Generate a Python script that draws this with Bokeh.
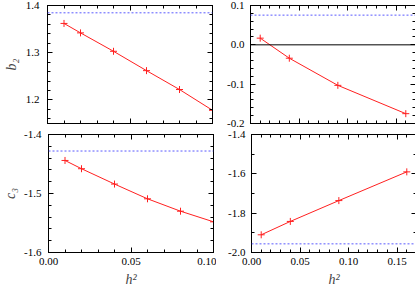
from bokeh.plotting import figure
from bokeh.models import LinearAxis, FixedTicker, PrintfTickFormatter, Span, Range1d
from bokeh.layouts import column, row
from bokeh.embed import file_html
from bokeh.resources import INLINE

# ---- data ----
h2_left = [0.01, 0.02, 0.04, 0.06, 0.08, 0.10]
b2_left = [1.362, 1.342, 1.303, 1.262, 1.222, 1.178]
b2_left_limit = 1.3845
c3_left = [-1.444, -1.458, -1.484, -1.509, -1.530, -1.548]
c3_left_limit = -1.428

h2_right = [0.01, 0.04, 0.09, 0.16]
b2_right = [0.017, -0.034, -0.103, -0.175]
b2_right_limit = 0.0755
c3_right = [-1.910, -1.842, -1.736, -1.590]
c3_right_limit = -1.956

# tick labels
x_ticks_left = [0.0, 0.05, 0.10]
x_ticks_right = [0.0, 0.05, 0.10, 0.15]
y_ticks_tl = [1.2, 1.3, 1.4]
y_ticks_tr = [-0.2, -0.1, 0.0, 0.1]
y_ticks_bl = [-1.6, -1.5, -1.4]
y_ticks_br = [-2.0, -1.8, -1.6, -1.4]

FONT = "Liberation Serif"


def minor(lo, hi, step):
    n = int(round((hi - lo) / step))
    return [round(lo + i * step, 6) for i in range(n + 1)]


def style_axis(ax, show_labels, fmt):
    ax.major_tick_in = 5
    ax.major_tick_out = 0
    ax.minor_tick_in = 3
    ax.minor_tick_out = 0
    ax.axis_line_color = "black"
    ax.major_tick_line_color = "black"
    ax.minor_tick_line_color = "black"
    ax.formatter = PrintfTickFormatter(format=fmt)
    if show_labels:
        ax.major_label_text_font = FONT
        ax.major_label_text_font_size = "11px"
        ax.major_label_text_color = "black"
    else:
        ax.major_label_text_color = None
        ax.major_label_text_font_size = "0px"
        ax.major_label_standoff = 0


def panel(x, y, lim, xr, yr, xt, xminor, yt, yminor, xfmt, yfmt,
          ylabel, show_x, borders, ystand, ylab_stand, zero=False):
    bl, br, bt, bb = borders
    p = figure(frame_width=165, frame_height=118,
               x_range=Range1d(*xr), y_range=Range1d(*yr),
               output_backend="svg", toolbar_location=None,
               min_border_left=bl, min_border_right=br,
               min_border_top=bt, min_border_bottom=bb)
    p.grid.visible = False
    p.outline_line_color = "black"
    p.outline_line_width = 1
    p.background_fill_color = "white"
    p.border_fill_color = "white"

    p.xaxis.ticker = FixedTicker(ticks=xt, minor_ticks=xminor)
    p.yaxis.ticker = FixedTicker(ticks=yt, minor_ticks=yminor)
    style_axis(p.xaxis[0], show_x, xfmt)
    style_axis(p.yaxis[0], True, yfmt)
    p.yaxis[0].major_label_standoff = ystand
    if ylabel:
        p.yaxis[0].axis_label = ylabel
        p.yaxis[0].axis_label_text_font = FONT
        p.yaxis[0].axis_label_text_font_style = "italic"
        p.yaxis[0].axis_label_text_font_size = "14px"
        p.yaxis[0].axis_label_standoff = ylab_stand
    if show_x:
        p.xaxis[0].major_label_standoff = 5
        p.xaxis[0].axis_label = "h²"
        p.xaxis[0].axis_label_text_font = FONT
        p.xaxis[0].axis_label_text_font_style = "italic"
        p.xaxis[0].axis_label_text_font_size = "14px"
        p.xaxis[0].axis_label_standoff = 4

    top = LinearAxis(ticker=FixedTicker(ticks=xt, minor_ticks=xminor))
    style_axis(top, False, xfmt)
    p.add_layout(top, "above")
    right = LinearAxis(ticker=FixedTicker(ticks=yt, minor_ticks=yminor))
    style_axis(right, False, yfmt)
    p.add_layout(right, "right")

    if zero:
        p.add_layout(Span(location=0, dimension="width", line_color="black", line_width=1))
    p.add_layout(Span(location=lim, dimension="width", line_color="#5a5aff",
                      line_width=1, line_dash="2 2"))
    p.line(x, y, line_color="#ff2020", line_width=1)
    p.scatter(x, y, marker="cross", size=7, line_color="#ff2020", line_width=1)
    return p


xmin_left = minor(0.0, 0.10, 0.01)
xmin_right = minor(0.0, 0.17, 0.01)

tl = panel(h2_left, b2_left, b2_left_limit, (0, 0.10), (1.15, 1.40),
           x_ticks_left, xmin_left, y_ticks_tl, minor(1.16, 1.40, 0.02),
           "%.2f", "%.1f", "b₂", False, (45, 3, 5, 5), 8, 4)
tr = panel(h2_right, b2_right, b2_right_limit, (0, 0.17), (-0.2, 0.1),
           x_ticks_right, xmin_right, y_ticks_tr, minor(-0.2, 0.1, 0.02),
           "%.2f", "%.1f", "", False, (35, 2, 5, 5), 6, 0, zero=True)
bl = panel(h2_left, c3_left, c3_left_limit, (0, 0.10), (-1.6, -1.4),
           x_ticks_left, xmin_left, y_ticks_bl, minor(-1.6, -1.4, 0.02),
           "%.2f", "%.1f", "c₃", True, (45, 3, 6, 37), 7, 3)
br = panel(h2_right, c3_right, c3_right_limit, (0, 0.17), (-2.0, -1.4),
           x_ticks_right, xmin_right, y_ticks_br, minor(-2.0, -1.4, 0.1),
           "%.2f", "%.1f", "", True, (35, 2, 6, 37), 6, 0)

layout = column(row(tl, tr), row(bl, br))

open("out.html", "w").write(file_html(layout, INLINE))
